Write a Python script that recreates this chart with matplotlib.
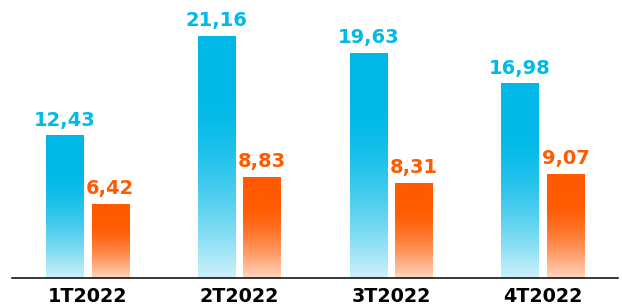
import numpy as np
import matplotlib
matplotlib.use("Agg")
import matplotlib.pyplot as plt
from matplotlib.colors import to_rgb

categories = ["1T2022", "2T2022", "3T2022", "4T2022"]
series_a = [12.43, 21.16, 19.63, 16.98]
series_b = [6.42, 8.83, 8.31, 9.07]
labels_a = ["12,43", "21,16", "19,63", "16,98"]
labels_b = ["6,42", "8,83", "8,31", "9,07"]

BLUE = "#00B9E8"
ORANGE = "#FF5A00"

fig = plt.figure(figsize=(6.22, 3.05), dpi=100)
ax = fig.add_axes([12/622, 27/305, 606/622, 278/305])
ax.set_xlim(-0.497, 3.495)
ax.set_ylim(0, 24.32)

def grad_bar(ax, xc, w, h, color, min_alpha, solid_from):
    n = 256
    t = np.linspace(0, 1, n)  # 0 = bottom, 1 = top
    s = np.clip(t / solid_from, 0, 1)
    a = min_alpha + (1 - min_alpha) * (1 - (1 - s) ** 1.6)
    rgb = np.array(to_rgb(color))
    img = np.ones((n, 1, 4))
    img[:, 0, :3] = rgb
    img[:, 0, 3] = a
    ax.imshow(img, extent=(xc - w/2, xc + w/2, 0, h), origin="lower",
              aspect="auto", interpolation="bilinear", zorder=2)

x = np.arange(len(categories))
w = 0.245
off = 0.15
for i in range(len(categories)):
    grad_bar(ax, x[i] - off, w, series_a[i], BLUE, 0.2, 0.75)
    grad_bar(ax, x[i] + off, w, series_b[i], ORANGE, 0.25, 0.75)
    ax.annotate(labels_a[i], (x[i] - off, series_a[i]), xytext=(0, 4.5),
                textcoords="offset points", ha="center", va="bottom",
                color=BLUE, fontsize=14, fontweight="bold")
    ax.annotate(labels_b[i], (x[i] + off, series_b[i]), xytext=(0, 4.5),
                textcoords="offset points", ha="center", va="bottom",
                color=ORANGE, fontsize=14, fontweight="bold")

ax.set_xlim(-0.497, 3.495)
ax.set_ylim(0, 24.32)
for s in ["top", "right", "left"]:
    ax.spines[s].set_visible(False)
ax.spines["bottom"].set_linewidth(1.1)
ax.spines["bottom"].set_color("black")
ax.set_yticks([])
ax.set_xticks(x)
ax.set_xticklabels(categories, fontsize=13.8, fontweight="bold", color="black")
ax.tick_params(axis="x", length=0, pad=6.5)

fig.savefig("out.png", dpi=100)
